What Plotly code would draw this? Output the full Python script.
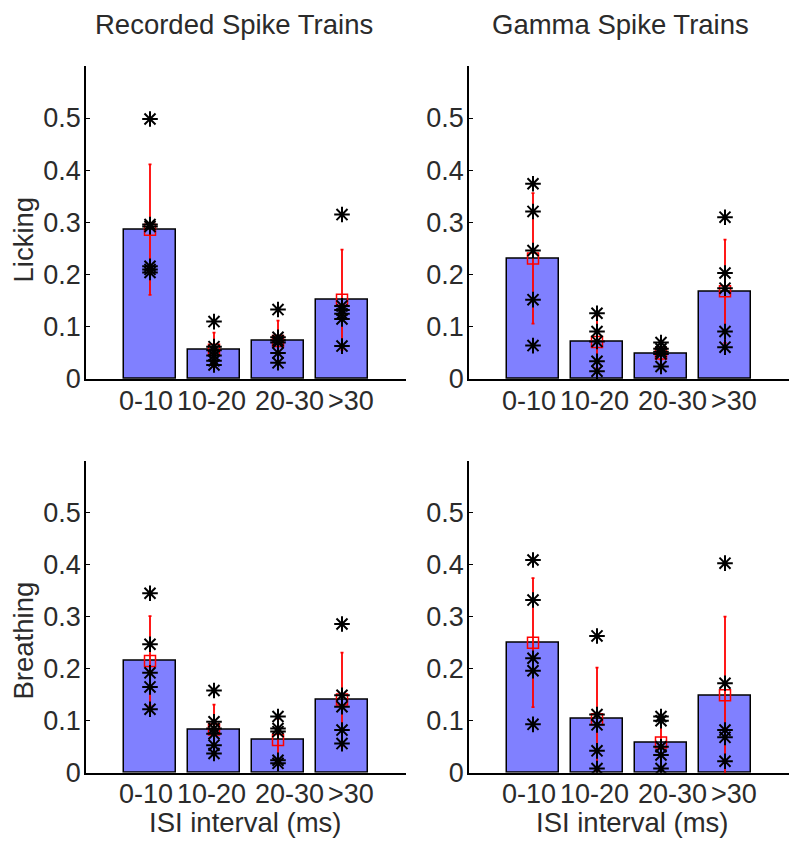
import plotly.graph_objects as go

# ---------------- data ----------------
categories = ["0-10", "10-20", "20-30", ">30"]
xpos = [1, 2, 3, 4]

col_titles = ["Recorded Spike Trains", "Gamma Spike Trains"]
row_labels = ["Licking", "Breathing"]
x_title = "ISI interval (ms)"
ytick_vals = [0, 0.1, 0.2, 0.3, 0.4, 0.5]
ytick_text = ["0", "0.1", "0.2", "0.3", "0.4", "0.5"]

# Recorded, Licking
rec_lick_mean = [0.286, 0.056, 0.073, 0.152]
rec_lick_err = [0.125, 0.033, 0.039, 0.096]
rec_lick_pts = [
    [0.498, 0.296, 0.292, 0.216, 0.210, 0.204],
    [0.110, 0.062, 0.055, 0.045, 0.035, 0.027],
    [0.133, 0.080, 0.074, 0.070, 0.050, 0.031],
    [0.315, 0.140, 0.132, 0.125, 0.115, 0.063],
]

# Gamma, Licking
gam_lick_mean = [0.231, 0.071, 0.049, 0.168]
gam_lick_err = [0.125, 0.050, 0.012, 0.099]
gam_lick_pts = [
    [0.374, 0.321, 0.246, 0.152, 0.064],
    [0.126, 0.091, 0.072, 0.034, 0.015],
    [0.070, 0.058, 0.052, 0.048, 0.024],
    [0.310, 0.203, 0.174, 0.091, 0.061],
]

# Recorded, Breathing
rec_breath_mean = [0.215, 0.083, 0.063, 0.141]
rec_breath_err = [0.086, 0.048, 0.040, 0.090]
rec_breath_pts = [
    [0.345, 0.247, 0.192, 0.165, 0.122],
    [0.158, 0.098, 0.085, 0.075, 0.053, 0.037],
    [0.108, 0.085, 0.079, 0.024, 0.018],
    [0.286, 0.149, 0.127, 0.082, 0.056],
]

# Gamma, Breathing
gam_breath_mean = [0.250, 0.103, 0.058, 0.149]
gam_breath_err = [0.124, 0.099, 0.050, 0.151]
gam_breath_pts = [
    [0.409, 0.332, 0.220, 0.196, 0.093],
    [0.263, 0.112, 0.092, 0.042, 0.008],
    [0.108, 0.100, 0.050, 0.034, 0.008],
    [0.403, 0.172, 0.082, 0.068, 0.022],
]

panels = [
    (rec_lick_mean, rec_lick_err, rec_lick_pts, "x", "y", "top"),
    (gam_lick_mean, gam_lick_err, gam_lick_pts, "x2", "y2", "top"),
    (rec_breath_mean, rec_breath_err, rec_breath_pts, "x3", "y3", "bot"),
    (gam_breath_mean, gam_breath_err, gam_breath_pts, "x4", "y4", "bot"),
]

# ---------------- figure ----------------
OFF = 8                      # page body margin of the html page
FW, FH = 800 - OFF, 851 - OFF
FONT = "Liberation Sans, Arial, sans-serif"
TXT = "#2b2b2b"
FS = 27
FS_T = 27.5

def px_x(x):
    return (x - OFF) / FW

def px_y(y):
    return 1 - (y - OFF) / FH

fig = go.Figure()

for mean, err, pts, xa, ya, _ in panels:
    fig.add_trace(go.Bar(
        x=xpos, y=mean, width=0.8, xaxis=xa, yaxis=ya,
        marker=dict(color="#8080ff", line=dict(color="black", width=1.5)),
        showlegend=False, hoverinfo="skip"))
    fig.add_trace(go.Scatter(
        x=xpos, y=mean, mode="markers", xaxis=xa, yaxis=ya,
        marker=dict(symbol="square-open", size=11, color="red",
                    line=dict(color="red", width=1.5)),
        error_y=dict(type="data", array=err, color="red", thickness=1.8, width=1.5),
        showlegend=False, hoverinfo="skip"))
    sx, sy = [], []
    for xi, plist in zip(xpos, pts):
        for v in plist:
            sx.append(xi)
            sy.append(v)
    fig.add_trace(go.Scatter(
        x=sx, y=sy, mode="markers", xaxis=xa, yaxis=ya,
        marker=dict(symbol="asterisk-open", size=13, color="black",
                    line=dict(color="black", width=2)),
        showlegend=False, hoverinfo="skip"))

xdom_left = [px_x(86), px_x(406)]
xdom_right = [px_x(469), px_x(789)]
ydom_top = [px_y(379), px_y(65.8)]
ydom_bot = [px_y(772.7), px_y(460.7)]

def xax(dom, anchor):
    return dict(domain=dom, anchor=anchor, range=[0, 5], tickvals=xpos,
                showticklabels=False, showline=True, linecolor="black",
                linewidth=1.5, ticks="", showgrid=False, zeroline=False,
                automargin=False, fixedrange=True)

def yax(dom, anchor):
    return dict(domain=dom, anchor=anchor, range=[0, 0.6], tickvals=ytick_vals,
                ticktext=ytick_text, showline=True, linecolor="black",
                linewidth=1.5, ticks="inside", ticklen=4, tickcolor="black",
                showgrid=False, zeroline=False, automargin=False,
                ticklabelstandoff=-2,
                tickfont=dict(family=FONT, size=FS, color=TXT), fixedrange=True)

fig.update_layout(
    width=FW, height=FH, margin=dict(l=0, r=0, t=0, b=0),
    paper_bgcolor="white", plot_bgcolor="white", bargap=0,
    xaxis=xax(xdom_left, "y"), yaxis=yax(ydom_top, "x"),
    xaxis2=xax(xdom_right, "y2"), yaxis2=yax(ydom_top, "x2"),
    xaxis3=xax(xdom_left, "y3"), yaxis3=yax(ydom_bot, "x3"),
    xaxis4=xax(xdom_right, "y4"), yaxis4=yax(ydom_bot, "x4"),
)

def ann(text, xpx, ypx, angle=0, size=FS_T):
    fig.add_annotation(text=text, x=px_x(xpx), y=px_y(ypx), xref="paper", yref="paper",
                       showarrow=False, textangle=angle, xanchor="center", yanchor="middle",
                       font=dict(family=FONT, size=size, color=TXT))

# category tick labels (placed on each axis' own scale, nudged as in the original)
label_nudge = [-4, -2.5, 11, 9]
label_row_y = {"top": 400.5, "bot": 794}
for _, _, _, xa, _, row in panels:
    for xi, cat, dx in zip(xpos, categories, label_nudge):
        fig.add_annotation(text=cat, x=xi, xref=xa, y=px_y(label_row_y[row]), yref="paper",
                           xshift=dx, showarrow=False, xanchor="center", yanchor="middle",
                           font=dict(family=FONT, size=FS, color=TXT))

ann(col_titles[0], 233.5, 24)
ann(col_titles[1], 620, 24)
ann(row_labels[0], 22.5, 240, -90)
ann(row_labels[1], 22.5, 641, -90)
ann(x_title, 245, 822.5)
ann(x_title, 632, 822.5)

fig.write_html("out.html")
